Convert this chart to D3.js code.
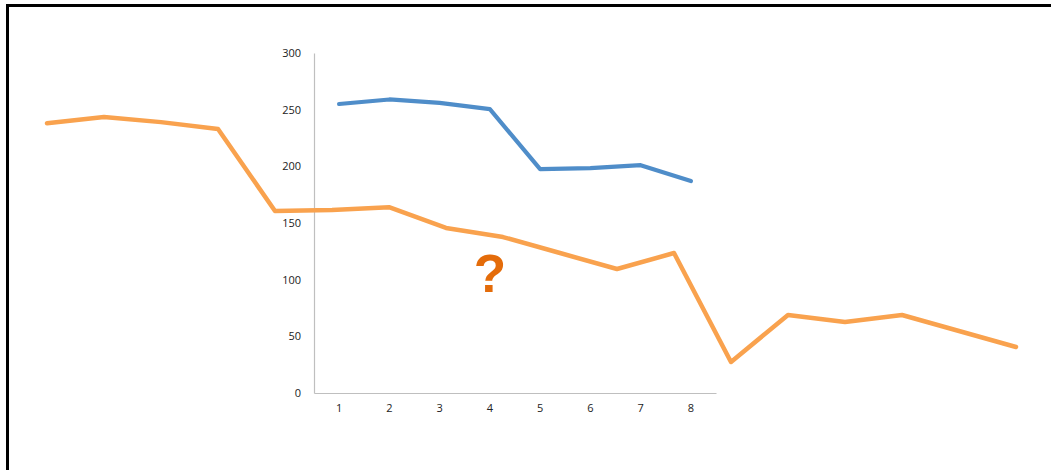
<!DOCTYPE html>
<html><head><meta charset="utf-8">
<script src="https://cdn.jsdelivr.net/npm/d3@7"></script>
<style>html,body{margin:0;padding:0;background:#fff;}svg{display:block;}</style>
</head><body>
<svg id="c" width="1051" height="470"></svg>
<script>
const categories = ["1","2","3","4","5","6","7","8"];
const blueValues = [255, 259, 256, 250.5, 197.5, 198.5, 201, 187];
const yTicks = [0, 50, 100, 150, 200, 250, 300];
const orangeIndex = [0,1,2,3,4,5,6,7,8,9,10,11,12,13,14,15,16,17];
const orangeValues = [238, 243.5, 239, 233, 160.6, 161.5, 164, 145.6, 137.6, 123.5, 109.4, 123.5, 27.4, 68.8, 62.6, 68.8, 54.7, 40.6];
const markLabel = "?";

const svg = d3.select("#c");
// frame
svg.append("path").attr("d","M7.5,470 L7.5,5.5 L1051,5.5").attr("fill","none").attr("stroke","#000").attr("stroke-width",3);

const y = d3.scaleLinear().domain([0,300]).range([393,53]);
const x = d3.scaleBand().domain(categories).range([314,716]);
const xo = d3.scaleLinear().domain([0,17]).range([47,1016]);

// y axis
const ya = svg.append("g").attr("transform","translate(314,0)")
  .call(d3.axisLeft(y).tickValues(yTicks).tickSize(0).tickPadding(13));
ya.select(".domain").attr("stroke","#bfbfbf").attr("stroke-width",1.2);
ya.selectAll("text").attr("font-family","Open Sans, sans-serif").attr("font-size",11).attr("fill","#222");

const xa = svg.append("g").attr("transform","translate(0,393)")
  .call(d3.axisBottom(x).tickSize(0).tickPadding(11));
xa.select(".domain").attr("stroke","#bfbfbf").attr("stroke-width",1.2);
xa.selectAll("text").attr("font-family","Open Sans, sans-serif").attr("font-size",11).attr("fill","#222");

// orange line
svg.append("path")
  .datum(orangeIndex.map((d,i)=>[d,orangeValues[i]]))
  .attr("fill","none").attr("stroke","#f9a24e").attr("stroke-width",4.5)
  .attr("stroke-linejoin","round").attr("stroke-linecap","round")
  .attr("d", d3.line().x(d=>xo(d[0])).y(d=>y(d[1])));

// blue line
svg.append("path")
  .datum(categories.map((c,i)=>[c,blueValues[i]]))
  .attr("fill","none").attr("stroke","#4f8dc9").attr("stroke-width",4.2)
  .attr("stroke-linejoin","round").attr("stroke-linecap","round")
  .attr("d", d3.line().x(d=>x(d[0])+x.bandwidth()/2).y(d=>y(d[1])));

svg.append("text").attr("x",490).attr("y",292).attr("text-anchor","middle")
  .attr("font-family","Liberation Sans, Arial, sans-serif").attr("font-weight","bold")
  .attr("font-size",53).attr("fill","#e46c0a").text(markLabel);
</script>
</body></html>
